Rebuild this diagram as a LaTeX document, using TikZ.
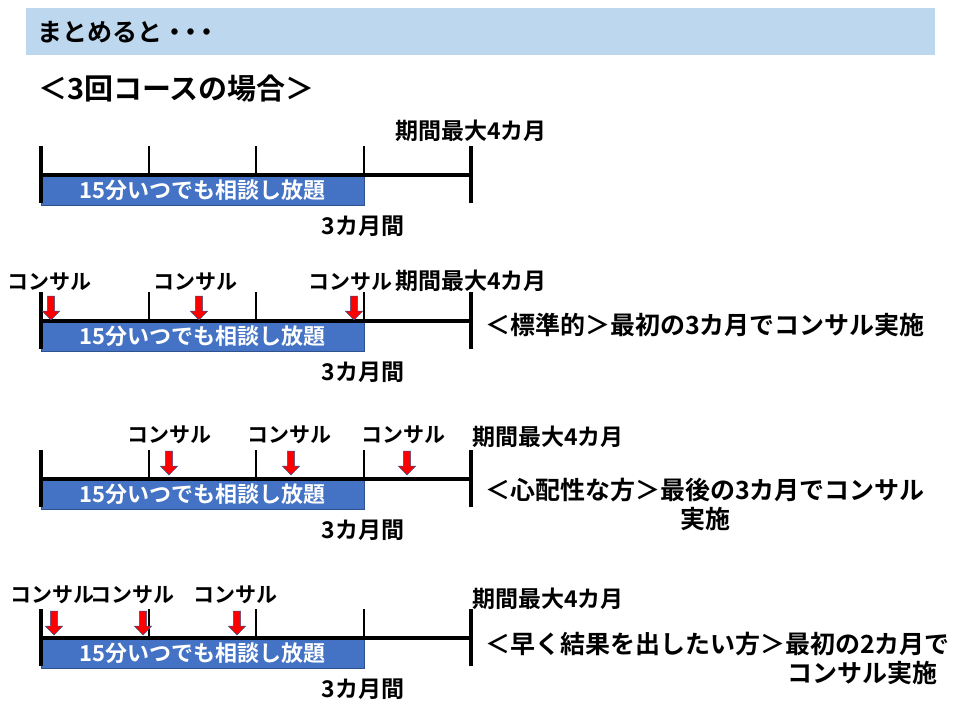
\documentclass[tikz,border=0pt]{standalone}
\usepackage{fontspec}
\setmainfont{Noto Sans CJK JP}[BoldFont={Noto Sans CJK JP Bold}]
\usepackage{tikz}
\usetikzlibrary{positioning}
\definecolor{headblue}{HTML}{BDD7EE}
\definecolor{barblue}{HTML}{4472C4}
\definecolor{baredge}{HTML}{2F528F}
\tikzset{lbl/.style={inner sep=0pt,font=\bfseries\fontsize{21}{24}\selectfont},
  info/.style={inner sep=0pt,font=\bfseries\fontsize{23}{26}\selectfont},
  note/.style={inner sep=0pt,anchor=west,font=\bfseries\fontsize{25}{29}\selectfont},
  consult/.pic={\filldraw[fill=red,draw=baredge,line width=0.5] (-3.7,-24) -- (3.7,-24) -- (3.7,-9) -- (8.7,-9) -- (0,0) -- (-8.7,-9) -- (-3.7,-9) -- cycle;}}

\begin{document}
\begin{tikzpicture}[x=1pt, y=-1pt]
\tikzstyle{bar}=[fill=barblue,draw=baredge,line width=0.6,text=white,inner sep=0pt,anchor=north west,minimum width=323,minimum height=30,font=\bfseries\fontsize{22}{24}\selectfont]
\useasboundingbox (0,0) rectangle (960,720);
    \fill[headblue] (26,8) rectangle (935,55);
    \node[inner sep=0pt,anchor=west,font=\bfseries\fontsize{25}{28}\selectfont] (title) at (37,32) {まとめると・\kern-.35em・\kern-.35em・};
    \node[inner sep=0pt,anchor=west,font=\bfseries\fontsize{29}{34}\selectfont] (course) at (38,89) {＜3回コースの場合＞};
    \foreach \r/\L in {1/175,2/321,3/479,4/638} {
        \coordinate (s\r) at (41,\L);
        \coordinate (e\r) at (471,\L);
        \node[bar] (bar\r) at (s\r) {15分いつでも相談し放題};
        \draw[line width=3.5] (s\r) -- (e\r);
        \foreach \x in {149,256,364} \draw[line width=1.5] (\x,\L) -- (\x,\L-29);
        \draw[line width=4] (41,\L-29) -- (41,\L+28);
        \draw[line width=4] (471,\L-29) -- (471,\L+28);
        \node[info] (len\r) at (363,\L+51) {3カ月間};
    }
    \node[info,anchor=west] (max1) at (395,131) {期間最大4カ月};
    \node[info,anchor=west] (max2) at (395,281) {期間最大4カ月};
    \node[info,anchor=west] (max3) at (472,437) {期間最大4カ月};
    \node[info,anchor=west] (max4) at (472,599) {期間最大4カ月};

    \foreach \x in {51,199,354} \pic at (\x,320) {consult};
    \node[lbl] (cs21) at (49.5,282) {コンサル};
    \node[lbl] (cs22) at (195.5,282) {コンサル};
    \node[lbl] (cs23) at (350.5,282) {コンサル};
    \node[note] (plan2) at (485,325) {＜標準的＞最初の3カ月でコンサル実施};

    \foreach \x in {169,291,407} \pic at (\x,475) {consult};
    \node[lbl] (cs31) at (169,435) {コンサル};
    \node[lbl] (cs32) at (289,435) {コンサル};
    \node[lbl] (cs33) at (403,435) {コンサル};
    \node[note,align=center] (plan3) at (485,504) {＜心配性な方＞最後の3カ月でコンサル\\実施};

    \foreach \x in {54,143,237} \pic at (\x,635) {consult};
    \node[lbl] (cs41) at (52,595) {コンサル};
    \node[lbl] (cs42) at (132,595) {コンサル};
    \node[lbl] (cs43) at (235.5,595) {コンサル};
    \node[note,align=right] (plan4) at (485,658) {＜早く結果を出したい方＞最初の2カ月で\\コンサル実施\hspace*{12pt}};
\end{tikzpicture}
\end{document}
